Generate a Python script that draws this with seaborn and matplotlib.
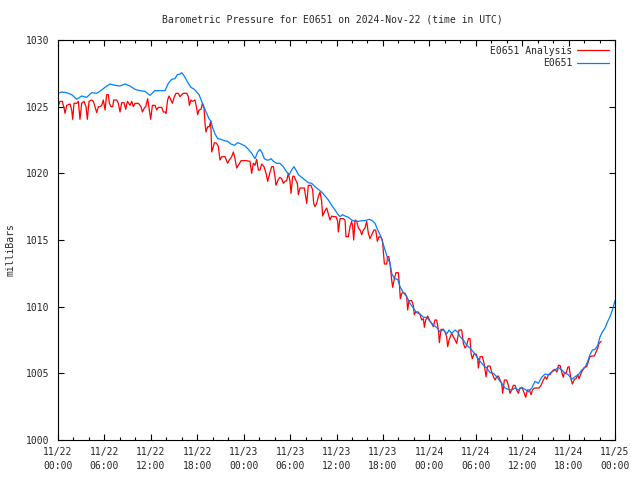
import pandas as pd
import matplotlib
matplotlib.use('Agg')
import matplotlib.pyplot as plt
import matplotlib.dates as mdates
import seaborn as sns

start = pd.Timestamp('2024-11-22 00:00')

# E0651 Analysis (red), hours since 11/22 00:00 UTC
analysis_hours = [
    0.0, 0.26, 0.56, 0.78, 0.91, 1.12, 1.55, 1.77, 1.90, 2.07,
    2.41, 2.63, 2.84, 3.06, 3.36, 3.62, 3.79, 4.01, 4.35, 4.57,
    4.78, 5.0, 5.22, 5.43, 5.65, 5.86, 6.08, 6.29, 6.51, 6.64,
    6.85, 7.07, 7.2, 7.59, 7.8, 8.02, 8.23, 8.53, 8.75, 8.97,
    9.31, 9.53, 9.74, 9.96, 10.39, 10.73, 10.91, 11.16, 11.34, 11.59,
    11.81, 11.98, 12.2, 12.54, 12.76, 12.97, 13.41, 13.62, 13.84, 13.96,
    14.17, 14.35, 14.6, 14.78, 15.04, 15.25, 15.55, 15.77, 15.99, 16.2,
    16.63, 16.85, 16.98, 17.19, 17.36, 17.71, 17.92, 18.05, 18.23, 18.49,
    18.66, 18.87, 19.0, 19.13, 19.35, 19.56, 19.74, 19.87, 20.08, 20.21,
    20.51, 20.73, 20.94, 21.16, 21.59, 21.93, 22.15, 22.45, 22.67, 22.88,
    23.1, 23.31, 23.66, 23.96, 24.39, 24.82, 25.04, 25.25, 25.47, 25.68,
    25.9, 26.11, 26.33, 26.63, 26.89, 27.11, 27.41, 27.62, 27.84, 28.05,
    28.18, 28.48, 28.7, 28.91, 29.13, 29.34, 29.56, 29.77, 29.99, 30.12,
    30.33, 30.5, 30.72, 30.94, 31.07, 31.28, 31.58, 31.84, 32.02, 32.15,
    32.36, 32.7, 32.92, 33.05, 33.22, 33.44, 33.65, 33.87, 34.08, 34.21,
    34.43, 34.73, 34.95, 35.16, 35.38, 35.59, 35.94, 36.15, 36.24, 36.46,
    36.89, 37.1, 37.23, 37.53, 37.75, 37.96, 38.09, 38.22, 38.4, 38.61,
    38.83, 39.04, 39.26, 39.47, 39.69, 39.9, 40.12, 40.33, 40.64, 40.85,
    41.07, 41.28, 41.5, 41.76, 41.93, 42.06, 42.19, 42.49, 42.61, 42.75,
    42.92, 43.13, 43.26, 43.48, 43.69, 43.99, 44.12, 44.25, 44.43, 44.64,
    44.86, 45.07, 45.2, 45.37, 45.72, 45.93, 46.06, 46.23, 46.58, 46.8,
    47.01, 47.23, 47.36, 47.53, 47.79, 48.09, 48.3, 48.52, 48.73, 48.95,
    49.17, 49.3, 49.51, 49.81, 50.03, 50.24, 50.37, 50.55, 50.89, 51.11,
    51.41, 51.54, 51.84, 52.18, 52.4, 52.61, 52.83, 53.05, 53.26, 53.39,
    53.56, 53.78, 54.04, 54.25, 54.34, 54.56, 54.86, 55.07, 55.33, 55.55,
    55.85, 56.06, 56.28, 56.5, 56.71, 56.92, 57.14, 57.35, 57.48, 57.7,
    58.0, 58.21, 58.43, 58.65, 58.86, 59.08, 59.29, 59.51, 59.72, 60.02,
    60.28, 60.46, 60.67, 60.93, 61.15, 61.32, 61.58, 61.88, 62.18, 62.44,
    62.74, 62.96, 63.17, 63.39, 63.6, 63.82, 64.03, 64.25, 64.46, 64.59,
    64.68, 64.89, 65.11, 65.32, 65.45, 65.67, 65.89, 66.06, 66.32, 66.49,
    66.75, 66.96, 67.18, 67.35, 67.61, 67.78, 68.04, 68.34, 68.56, 68.77,
    68.99, 69.33, 69.55, 69.77, 69.94, 70.2,
]
analysis_mb = [
    1025.0, 1025.4, 1025.4, 1024.9, 1024.5, 1025.1, 1025.2, 1024.75, 1024.05, 1025.25,
    1025.25, 1025.4, 1024.05, 1025.25, 1025.4, 1025.0, 1024.05, 1025.4, 1025.5, 1025.4,
    1025.0, 1024.55, 1025.0, 1025.0, 1025.1, 1025.5, 1024.75, 1025.9, 1025.9, 1025.25,
    1025.0, 1025.0, 1025.5, 1025.5, 1025.25, 1024.6, 1025.3, 1025.3, 1024.8, 1025.4,
    1025.1, 1025.4, 1025.0, 1025.25, 1025.25, 1025.0, 1024.6, 1024.9, 1025.0, 1025.6,
    1024.75, 1024.05, 1025.1, 1025.1, 1024.75, 1024.95, 1024.95, 1024.6, 1024.6, 1024.5,
    1025.5, 1025.8, 1025.5, 1025.25, 1025.75, 1026.0, 1026.0, 1025.75, 1025.9, 1026.0,
    1026.0, 1025.75, 1025.1, 1025.5, 1025.4, 1025.5, 1024.9, 1024.4, 1024.75, 1024.8,
    1025.25, 1024.9, 1023.75, 1023.1, 1023.5, 1023.5, 1023.9, 1021.6, 1022.0, 1022.3,
    1022.25, 1022.0, 1021.0, 1021.25, 1021.25, 1020.75, 1021.0, 1021.25, 1021.6, 1021.1,
    1020.4, 1020.6, 1020.95, 1020.95, 1020.95, 1020.9, 1020.0, 1020.75, 1020.6, 1021.05,
    1020.25, 1020.25, 1020.7, 1020.5, 1020.0, 1019.4, 1020.1, 1020.5, 1020.5, 1019.75,
    1019.1, 1019.55, 1019.7, 1019.6, 1019.25, 1019.4, 1019.45, 1020.0, 1019.4, 1018.5,
    1019.75, 1019.8, 1019.5, 1019.25, 1018.4, 1018.9, 1018.9, 1018.9, 1018.25, 1017.75,
    1019.1, 1019.1, 1018.75, 1017.75, 1017.5, 1017.75, 1018.25, 1018.6, 1017.9, 1016.8,
    1017.1, 1017.4, 1016.95, 1016.5, 1016.8, 1016.75, 1016.75, 1016.4, 1015.6, 1016.6,
    1016.6, 1016.5, 1015.25, 1015.25, 1016.0, 1016.4, 1016.0, 1015.0, 1016.5, 1016.4,
    1015.9, 1015.75, 1015.4, 1015.75, 1015.9, 1016.4, 1015.5, 1015.1, 1015.5, 1015.75,
    1015.75, 1014.9, 1015.25, 1015.2, 1015.0, 1014.1, 1013.2, 1013.2, 1013.75, 1013.75,
    1013.25, 1012.0, 1011.45, 1012.1, 1012.55, 1012.55, 1011.75, 1010.6, 1011.0, 1011.05,
    1011.0, 1010.75, 1009.75, 1010.45, 1010.45, 1010.1, 1009.4, 1009.6, 1009.6, 1009.4,
    1009.0, 1009.1, 1008.45, 1009.0, 1009.3, 1008.9, 1008.75, 1008.5, 1009.0, 1009.0,
    1008.25, 1007.3, 1008.3, 1008.3, 1008.1, 1007.75, 1007.0, 1007.5, 1008.0, 1007.75,
    1007.4, 1007.25, 1008.25, 1008.25, 1007.25, 1006.9, 1007.1, 1007.6, 1007.6, 1006.5,
    1006.1, 1006.45, 1006.45, 1006.1, 1005.4, 1006.25, 1006.25, 1005.75, 1004.75, 1005.55,
    1005.55, 1005.1, 1004.75, 1004.5, 1004.75, 1004.8, 1004.5, 1004.25, 1003.5, 1004.5,
    1004.5, 1004.1, 1003.5, 1003.75, 1004.1, 1004.1, 1003.75, 1003.5, 1003.9, 1003.9,
    1003.5, 1003.2, 1003.75, 1003.75, 1003.4, 1003.75, 1003.9, 1003.9, 1003.9, 1004.1,
    1004.5, 1004.75, 1004.55, 1004.9, 1004.9, 1005.1, 1005.25, 1005.3, 1005.1, 1005.25,
    1005.6, 1005.6, 1005.1, 1004.7, 1005.05, 1005.0, 1005.45, 1005.5, 1004.55, 1004.2,
    1004.55, 1004.6, 1004.9, 1004.6, 1005.0, 1005.2, 1005.45, 1005.5, 1005.9, 1006.25,
    1006.3, 1006.3, 1006.6, 1006.9, 1007.25, 1007.4,
]

# E0651 station (blue)
station_hours = [
    0.0, 0.47, 1.12, 1.77, 2.41, 3.06, 3.7, 4.35, 5.0, 5.64,
    6.07, 6.72, 7.37, 8.0, 8.66, 9.3, 9.95, 10.6, 11.25, 11.9,
    12.5, 13.2, 13.83, 14.26, 14.69, 15.12, 15.42, 15.77, 15.99, 16.2,
    16.5, 16.85, 17.19, 17.62, 17.92, 18.23, 18.57, 18.92, 19.22, 19.52,
    19.78, 20.0, 20.3, 20.64, 21.07, 21.5, 21.93, 22.36, 22.8, 23.23,
    23.66, 24.17, 24.61, 25.04, 25.47, 25.81, 26.11, 26.41, 26.67, 26.98,
    27.28, 27.54, 27.84, 28.27, 28.7, 29.13, 29.56, 29.9, 30.2, 30.5,
    30.76, 31.07, 31.5, 31.93, 32.36, 32.79, 33.22, 33.65, 34.08, 34.52,
    34.95, 35.38, 35.81, 36.15, 36.46, 36.76, 37.1, 37.53, 37.96, 38.4,
    38.83, 39.26, 39.69, 40.2, 40.64, 40.98, 41.33, 41.63, 41.93, 42.27,
    42.62, 42.92, 43.13, 43.48, 43.91, 44.21, 44.64, 45.07, 45.5, 45.93,
    46.36, 46.8, 47.23, 47.66, 48.09, 48.52, 48.95, 49.38, 49.81, 50.24,
    50.55, 50.89, 51.32, 51.67, 51.97, 52.4, 52.83, 53.26, 53.7, 54.13,
    54.56, 54.99, 55.42, 55.85, 56.28, 56.71, 57.14, 57.35, 57.78, 58.21,
    58.65, 59.08, 59.51, 59.94, 60.37, 60.8, 61.23, 61.66, 62.09, 62.52,
    62.96, 63.39, 63.82, 64.25, 64.68, 65.11, 65.54, 65.97, 66.4, 66.84,
    67.27, 67.7, 68.13, 68.47, 68.77, 69.08, 69.42, 69.77, 70.07, 70.37,
    70.71, 71.06, 71.36, 71.66, 72.0,
]
station_mb = [
    1026.0, 1026.1, 1026.05, 1025.9, 1025.55, 1025.8, 1025.7, 1026.05, 1026.0, 1026.25,
    1026.45, 1026.7, 1026.6, 1026.55, 1026.7, 1026.55, 1026.3, 1026.2, 1026.15, 1025.85,
    1026.2, 1026.2, 1026.2, 1026.75, 1027.05, 1027.1, 1027.4, 1027.45, 1027.55, 1027.4,
    1027.1, 1026.75, 1026.45, 1026.3, 1026.1, 1025.9, 1025.4, 1024.9, 1024.5, 1024.1,
    1023.9, 1023.4, 1022.95, 1022.6, 1022.55, 1022.45, 1022.4, 1022.2, 1022.1, 1022.3,
    1022.2, 1022.05, 1021.8, 1021.5, 1021.1, 1021.6, 1021.8, 1021.5, 1021.1, 1021.0,
    1021.0, 1021.1, 1020.9, 1020.75, 1020.75, 1020.5, 1020.1, 1019.9, 1020.25, 1020.5,
    1020.25, 1019.9, 1019.7, 1019.5, 1019.3, 1019.25, 1019.0, 1018.8, 1018.6, 1018.3,
    1018.0, 1017.6, 1017.25, 1016.95, 1016.75, 1016.9, 1016.8, 1016.7, 1016.5, 1016.4,
    1016.4, 1016.45, 1016.45, 1016.55, 1016.45, 1016.25, 1015.75, 1015.4, 1014.9, 1014.25,
    1013.6, 1013.25, 1012.5, 1012.1, 1012.05, 1011.5, 1011.05, 1010.75, 1010.25, 1009.9,
    1009.55, 1009.45, 1009.2, 1009.2, 1008.9, 1008.6, 1008.45, 1008.1, 1008.3, 1007.95,
    1008.25, 1008.0, 1008.25, 1008.1, 1007.75, 1007.5, 1007.1, 1006.9, 1006.6, 1006.25,
    1005.9, 1005.6, 1005.4, 1005.05, 1005.0, 1004.75, 1004.4, 1004.25, 1003.9, 1003.8,
    1003.75, 1003.9, 1003.75, 1003.95, 1003.8, 1003.6, 1003.9, 1004.4, 1004.25, 1004.7,
    1004.95, 1004.9, 1005.1, 1005.25, 1005.45, 1005.25, 1005.0, 1004.9, 1004.55, 1004.75,
    1004.9, 1005.25, 1005.45, 1005.9, 1006.4, 1006.75, 1006.8, 1007.1, 1007.75, 1008.1,
    1008.4, 1008.9, 1009.25, 1009.75, 1010.45,
]

analysis = pd.DataFrame({'time': start + pd.to_timedelta(analysis_hours, unit='h'),
                         'mb': analysis_mb})
station = pd.DataFrame({'time': start + pd.to_timedelta(station_hours, unit='h'),
                        'mb': station_mb})

sns.set_style('ticks')
plt.rcParams['font.family'] = ['DejaVu Sans Mono']
plt.rcParams['font.size'] = 7

fig = plt.figure(figsize=(6.4, 4.8), dpi=100)
ax = fig.add_axes([58 / 640, 40 / 480, 557 / 640, 400 / 480])

sns.lineplot(data=analysis, x='time', y='mb', color='#ff0000', lw=0.9,
             estimator=None, label='E0651 Analysis', ax=ax)
sns.lineplot(data=station, x='time', y='mb', color='#0080ff', lw=0.9,
             estimator=None, label='E0651', ax=ax)

ax.set_xlim(start, start + pd.Timedelta(hours=72))
ax.set_ylim(1000, 1030)
ax.set_yticks(range(1000, 1031, 5))
ax.xaxis.set_major_locator(mdates.HourLocator(byhour=[0, 6, 12, 18]))
ax.xaxis.set_minor_locator(mdates.HourLocator(byhour=range(0, 24, 2)))
ax.xaxis.set_major_formatter(mdates.DateFormatter('%m/%d\n%H:%M'))
ax.set_xlabel('')
ax.set_ylabel('')

ax.tick_params(which='both', direction='in', top=True, right=True,
               width=0.8, labelsize=7, color='black')
ax.tick_params(which='major', length=4.5)
ax.tick_params(which='minor', length=2.5)
ax.tick_params(axis='y', pad=6)
ax.tick_params(axis='x', pad=5)
for side in ax.spines.values():
    side.set_linewidth(0.8)
    side.set_color('black')

ax.legend(loc='upper right', frameon=False, markerfirst=False, fontsize=7,
          handlelength=3.3, handletextpad=0.5, borderaxespad=0.4,
          borderpad=0.2, labelspacing=0.25)

fig.text(332 / 640, 1 - 20 / 480,
         'Barometric Pressure for E0651 on 2024-Nov-22 (time in UTC)',
         ha='center', va='center', fontsize=7)
fig.text(11 / 640, 1 - 250 / 480, 'milliBars', rotation=90,
         ha='center', va='center', fontsize=7)

fig.canvas.draw()
for lab in ax.get_xticklabels():
    lab.set_linespacing(1.45)

fig.savefig('out.png', dpi=100)
